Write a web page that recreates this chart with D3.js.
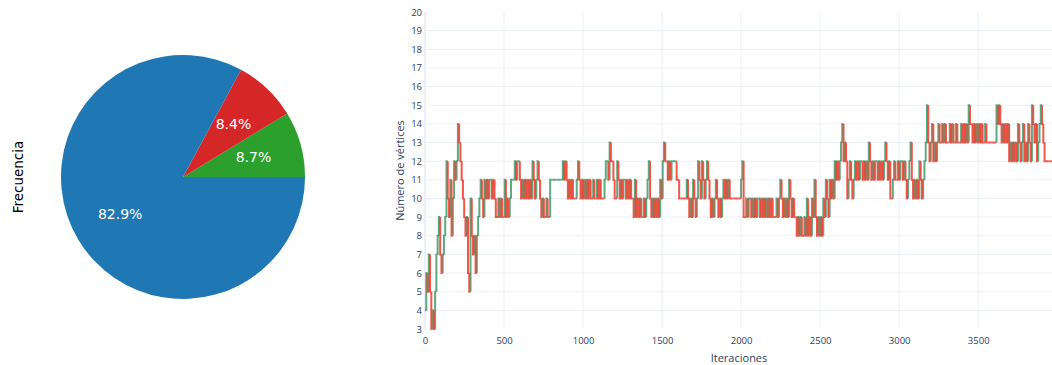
<!DOCTYPE html>
<html>
<head>
<meta charset="utf-8">
<script src="https://cdn.jsdelivr.net/npm/d3@7"></script>
<style>
  html, body { margin: 0; padding: 0; background: #fff; overflow: hidden; }
  svg { display: block; }
</style>
</head>
<body>
<svg id="chart" width="1052" height="365"></svg>
<script>
// Share of iterations by move type (pie, drawn counter-clockwise from 3 o'clock)
const moveTypes = ["Añadir vértice", "Quitar vértice", "Sin cambio"];
const moveShares = [8.7, 8.4, 82.9];
const moveColors = ["#2ca02c", "#d62728", "#1f77b4"];

// Vertex count along the run, one value every `sampleStep` iterations
const sampleStep = 8;
const lastIteration = 3967;
const vertexCounts = [
  4,6,5,7,5,3,4,3,5,7,
  8,9,7,6,7,8,9,12,10,9,
  11,8,10,12,11,12,14,13,12,11,
  10,9,8,9,6,5,10,8,7,8,
  6,8,9,10,11,10,9,11,10,11,
  10,11,11,10,11,10,9,9,10,9,
  10,9,9,11,9,10,9,10,11,11,
  11,12,11,12,12,11,10,11,10,11,
  10,11,10,11,10,12,11,10,11,12,
  11,10,9,10,9,9,10,9,9,11,
  11,11,11,11,11,11,11,11,11,12,
  11,12,11,10,11,10,11,10,10,10,
  11,12,11,10,11,10,11,10,11,10,
  11,10,10,11,10,10,11,10,11,10,
  10,10,11,12,12,11,13,12,12,11,
  10,10,12,11,10,11,10,11,11,10,
  11,10,11,10,10,9,11,9,10,9,
  10,9,9,10,9,10,11,12,10,9,
  10,9,10,9,10,9,11,10,12,13,
  12,12,11,12,11,12,12,12,12,11,
  11,10,10,10,10,10,10,11,10,9,
  10,9,11,10,9,10,12,11,10,12,
  11,10,11,12,11,10,9,10,9,10,
  11,10,9,10,9,10,11,10,11,10,
  11,10,10,10,10,10,10,10,10,10,
  11,12,9,9,10,9,10,10,9,10,
  9,10,9,10,10,9,10,9,10,9,
  10,9,10,9,10,9,9,9,10,9,
  10,11,10,9,10,9,10,9,11,10,
  9,10,9,9,8,9,8,9,8,8,
  9,8,10,8,9,8,10,9,11,9,
  8,9,8,9,8,10,9,11,10,9,
  11,10,11,10,12,11,12,11,12,13,
  14,12,13,12,10,11,12,11,10,11,
  12,11,12,11,12,12,11,12,11,12,
  11,13,12,11,12,11,12,12,11,12,
  11,12,11,12,13,12,11,12,10,10,
  11,12,11,11,12,11,12,12,11,12,
  11,10,11,12,13,11,10,11,10,11,
  10,12,11,10,11,12,13,15,13,12,
  13,14,12,13,12,13,14,13,13,14,
  13,14,13,13,13,14,13,14,13,13,
  14,13,13,13,14,13,14,13,14,13,
  15,14,14,13,14,13,14,13,14,13,
  14,13,13,14,13,13,13,13,13,13,
  13,13,15,14,15,14,13,14,13,14,
  13,14,12,13,12,13,12,13,12,14,
  13,12,13,14,12,13,12,14,13,12,
  15,14,13,14,12,13,14,15,14,13,
  12,12,12,12,12,12
];

const xTicks = [0, 500, 1000, 1500, 2000, 2500, 3000, 3500];
const yTicks = [3, 4, 5, 6, 7, 8, 9, 10, 11, 12, 13, 14, 15, 16, 17, 18, 19, 20];

const svg = d3.select("#chart");

// ---------- Pie ----------
const pieG = svg.append("g").attr("transform", "translate(183,177)");
const radius = 122;
const total = d3.sum(moveShares);
const arc = d3.arc().innerRadius(0).outerRadius(radius);
const labelArc = d3.arc().innerRadius(radius * 0.6).outerRadius(radius * 0.6);
let cum = 0;
moveShares.forEach((v, i) => {
  const a0 = cum / total * 2 * Math.PI;
  const a1 = (cum + v) / total * 2 * Math.PI;
  cum += v;
  // counter-clockwise from 3 o'clock, converted to d3's clockwise-from-12 angles
  const d = { startAngle: Math.PI / 2 - a1, endAngle: Math.PI / 2 - a0 };
  pieG.append("path").attr("d", arc(d)).attr("fill", moveColors[i]);
  const c = labelArc.centroid(d);
  pieG.append("text")
    .attr("x", c[0]).attr("y", c[1])
    .attr("text-anchor", "middle").attr("dominant-baseline", "central")
    .attr("font-family", "DejaVu Sans").attr("font-size", 14)
    .attr("fill", "#fff")
    .text(d3.format(".1f")(v) + "%");
});
svg.append("text")
  .attr("transform", "translate(17.5,177) rotate(-90)")
  .attr("text-anchor", "middle").attr("dominant-baseline", "central")
  .attr("font-family", "DejaVu Sans").attr("font-size", 13.5)
  .attr("fill", "#000")
  .text("Frecuencia");

// ---------- Step line ----------
const x = d3.scaleLinear().domain([0, lastIteration]).range([425, 1052]);
const y = d3.scaleLinear().domain([3, 20]).range([329, 12]);
const gridColor = "#ebf0f8";
const fontColor = "#2a3f5f";
const font = "Open Sans";

const grid = svg.append("g");
yTicks.filter(t => t > 3 && t < 20).forEach(t => {
  grid.append("line").attr("x1", 425).attr("x2", 1052)
    .attr("y1", y(t)).attr("y2", y(t))
    .attr("stroke", gridColor).attr("stroke-width", 1);
});
xTicks.forEach(t => {
  grid.append("line").attr("x1", x(t)).attr("x2", x(t))
    .attr("y1", 12).attr("y2", 329)
    .attr("stroke", gridColor).attr("stroke-width", t === 0 ? 2 : 1);
});

const xAxis = d3.axisBottom(x).tickValues(xTicks).tickSize(0).tickPadding(8)
  .tickFormat(d3.format("d"));
const gx = svg.append("g").attr("transform", "translate(0,329)").call(xAxis);
gx.select(".domain").remove();
gx.selectAll("text").attr("font-family", font).attr("font-size", 9.5).attr("fill", fontColor);

const yAxis = d3.axisLeft(y).tickValues(yTicks).tickSize(0).tickPadding(3)
  .tickFormat(d3.format("d"));
const gy = svg.append("g").attr("transform", "translate(425,0)").call(yAxis);
gy.select(".domain").remove();
gy.selectAll("text").attr("font-family", font).attr("font-size", 9.5).attr("fill", fontColor);

svg.append("text")
  .attr("x", 739).attr("y", 357)
  .attr("text-anchor", "middle").attr("dominant-baseline", "central")
  .attr("font-family", font).attr("font-size", 11).attr("fill", fontColor)
  .text("Iteraciones");
svg.append("text")
  .attr("transform", "translate(399,170.5) rotate(-90)")
  .attr("text-anchor", "middle").attr("dominant-baseline", "central")
  .attr("font-family", font).attr("font-size", 11).attr("fill", fontColor)
  .text("Número de vértices");

// each run: rise/fall into the level, then hold; coloured by direction of the change
const upColor = "#2e8b57";
const downColor = "#f03a2a";
const runs = [];
let dir = 1;
vertexCounts.forEach((v, i) => {
  const it0 = i * sampleStep;
  const it1 = i + 1 < vertexCounts.length ? (i + 1) * sampleStep : lastIteration;
  const prev = i > 0 ? vertexCounts[i - 1] : v;
  if (v !== prev) dir = v > prev ? 1 : -1;
  const p = d3.path();
  p.moveTo(x(it0), y(prev));
  p.lineTo(x(it0), y(v));
  p.lineTo(x(it1), y(v));
  runs.push({ d: p.toString(), up: dir > 0 });
});
// rises underneath, falls on top
const upG = svg.append("g").attr("fill", "none").attr("stroke-width", 2)
  .attr("stroke", upColor).attr("stroke-opacity", 0.75);
const downG = svg.append("g").attr("fill", "none").attr("stroke-width", 2)
  .attr("stroke", downColor).attr("stroke-opacity", 0.85);
runs.forEach(r => (r.up ? upG : downG).append("path").attr("d", r.d));
</script>
</body>
</html>
